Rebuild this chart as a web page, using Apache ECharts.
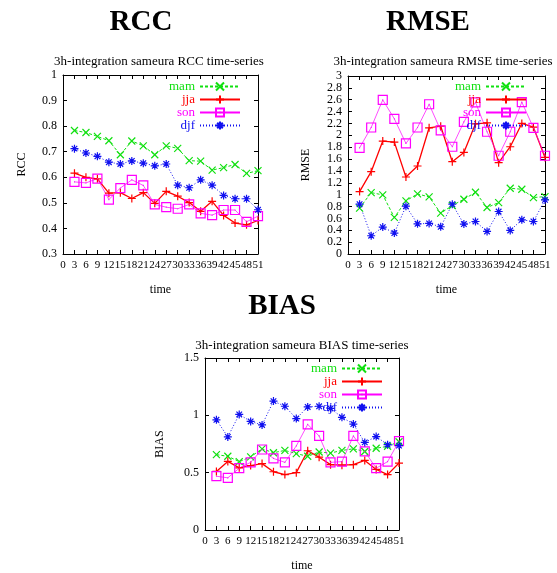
<!DOCTYPE html>
<html>
<head>
<meta charset="utf-8">
<script src="https://cdn.jsdelivr.net/npm/echarts@6/dist/echarts.min.js"></script>
<style>
  html, body { margin: 0; padding: 0; background: #fff; }
  #main { width: 557px; height: 573px; }
</style>
</head>
<body>
<div id="main"></div>
<script>
// forecast hours
const hours = [3, 6, 9, 12, 15, 18, 21, 24, 27, 30, 33, 36, 39, 42, 45, 48, 51]

// RCC
const rccMam = [0.783, 0.775, 0.76, 0.743, 0.688, 0.742, 0.723, 0.688, 0.723, 0.713, 0.665, 0.663, 0.628, 0.638, 0.65, 0.615, 0.626]
const rccJja = [0.616, 0.6, 0.594, 0.538, 0.54, 0.517, 0.54, 0.498, 0.545, 0.526, 0.501, 0.467, 0.506, 0.451, 0.421, 0.414, 0.431]
const rccSon = [0.582, 0.578, 0.595, 0.513, 0.558, 0.59, 0.568, 0.494, 0.483, 0.477, 0.494, 0.459, 0.452, 0.472, 0.472, 0.426, 0.448]
const rccDjf = [0.712, 0.695, 0.682, 0.659, 0.652, 0.664, 0.655, 0.645, 0.652, 0.569, 0.559, 0.59, 0.569, 0.529, 0.516, 0.516, 0.473]

// RMSE
const rmseMam = [0.772, 1.035, 0.996, 0.616, 0.895, 1.013, 0.962, 0.688, 0.817, 0.923, 1.04, 0.783, 0.867, 1.108, 1.091, 0.951, 0.968]
const rmseJja = [1.052, 1.388, 1.903, 1.886, 1.298, 1.483, 2.127, 2.154, 1.556, 1.712, 2.194, 2.21, 1.539, 1.808, 2.2, 2.138, 1.628]
const rmseSon = [1.79, 2.132, 2.597, 2.278, 1.863, 2.132, 2.524, 2.082, 1.808, 2.227, 2.557, 2.06, 1.656, 2.06, 2.56, 2.127, 1.656]
const rmseDjf = [0.839, 0.308, 0.453, 0.353, 0.806, 0.509, 0.515, 0.459, 0.839, 0.504, 0.548, 0.38, 0.716, 0.397, 0.576, 0.548, 0.912]

// BIAS
const biasMam = [0.657, 0.643, 0.596, 0.638, 0.708, 0.674, 0.694, 0.666, 0.643, 0.68, 0.671, 0.694, 0.708, 0.685, 0.713, 0.73, 0.77]
const biasJja = [0.511, 0.598, 0.542, 0.562, 0.579, 0.508, 0.483, 0.5, 0.691, 0.635, 0.57, 0.565, 0.57, 0.607, 0.528, 0.483, 0.584]
const biasSon = [0.469, 0.455, 0.539, 0.59, 0.702, 0.624, 0.59, 0.733, 0.921, 0.82, 0.59, 0.596, 0.82, 0.685, 0.539, 0.596, 0.775]
const biasDjf = [0.961, 0.812, 1.008, 0.947, 0.916, 1.124, 1.079, 0.972, 1.073, 1.079, 1.06, 0.983, 0.924, 0.764, 0.815, 0.744, 0.736]

const seasons = ['mam', 'jja', 'son', 'djf']
const serif = 'Liberation Serif'

const styles = {
  mam: { color: '#10e010', type: [3, 2], width: 1, symbol: 'path://M0,0L10,10M10,0L0,10', size: 7 },
  jja: { color: '#ff0000', type: 'solid', width: 1.3, symbol: 'path://M5,0V10M0,5H10', size: 8 },
  son: { color: '#ff00ff', type: 'solid', width: 0.7, symbol: 'path://M0,0H10V10H0ZM4.5,5H5.5', size: 9 },
  djf: { color: '#1010f0', type: [1, 2], width: 1, symbol: 'path://M5,0V10M0,5H10M1.5,1.5L8.5,8.5M8.5,1.5L1.5,8.5', size: 8 }
}

const grids = [
  { left: 63, top: 75, width: 195, height: 179 },
  { left: 348, top: 76, width: 197, height: 178 },
  { left: 205, top: 358, width: 194, height: 178 }
]

const yRanges = [
  { min: 0.3, max: 1, interval: 0.1, name: 'RCC', gap: 35 },
  { min: 0, max: 3, interval: 0.2, name: 'RMSE', gap: 36 },
  { min: 0, max: 1.5, interval: 0.5, name: 'BIAS', gap: 39 }
]

const allData = [
  { mam: rccMam, jja: rccJja, son: rccSon, djf: rccDjf },
  { mam: rmseMam, jja: rmseJja, son: rmseSon, djf: rmseDjf },
  { mam: biasMam, jja: biasJja, son: biasSon, djf: biasDjf }
]

function pairs(vals) {
  return hours.map((h, i) => [h, vals[i]])
}

const xAxis = []
const yAxis = []
const series = []

const tickStyle = { inside: true, length: 4, lineStyle: { color: '#000' } }
const lineStyle = { show: true, onZero: false, lineStyle: { color: '#000', width: 1 } }

grids.forEach((g, gi) => {
  // bottom axis with labels
  xAxis.push({
    type: 'value', gridIndex: gi, min: 0, max: 51, interval: 3,
    name: 'time', nameLocation: 'middle', nameGap: 30,
    nameTextStyle: { fontFamily: serif, fontSize: 12, color: '#000' },
    axisLine: lineStyle,
    axisTick: tickStyle,
    axisLabel: { fontFamily: serif, fontSize: 11, color: '#000', margin: 6, hideOverlap: false, showMaxLabel: true, showMinLabel: true },
    splitLine: { show: false }
  })
  // top mirror
  xAxis.push({
    type: 'value', gridIndex: gi, position: 'top', min: 0, max: 51, interval: 3,
    axisLine: lineStyle,
    axisTick: tickStyle,
    axisLabel: { show: false },
    splitLine: { show: false }
  })
  const yr = yRanges[gi]
  yAxis.push({
    type: 'value', gridIndex: gi, min: yr.min, max: yr.max, interval: yr.interval,
    name: yr.name, nameLocation: 'middle', nameGap: yr.gap, nameRotate: 90,
    nameTextStyle: { fontFamily: serif, fontSize: 12, color: '#000' },
    axisLine: lineStyle,
    axisTick: Object.assign({ show: true }, tickStyle),
    axisLabel: { fontFamily: serif, fontSize: 12, color: '#000', margin: 6 },
    splitLine: { show: false }
  })
  // right mirror
  yAxis.push({
    type: 'value', gridIndex: gi, position: 'right', min: yr.min, max: yr.max, interval: yr.interval,
    axisLine: lineStyle,
    axisTick: Object.assign({ show: true }, tickStyle),
    axisLabel: { show: false },
    splitLine: { show: false }
  })

  seasons.forEach(s => {
    const st = styles[s]
    series.push({
      name: s,
      type: 'line',
      xAxisIndex: gi * 2,
      yAxisIndex: gi * 2,
      data: pairs(allData[gi][s]),
      symbol: st.symbol,
      symbolSize: st.size,
      showSymbol: true,
      showAllSymbol: true,
      animation: false,
      lineStyle: { color: st.color, width: st.width, type: st.type },
      itemStyle: { color: 'rgba(0,0,0,0)', borderColor: st.color, borderWidth: 1.2 },
      emphasis: { disabled: true }
    })
  })
})

const legendPos = [
  { right: 316, top: 80 },
  { right: 30, top: 80 },
  { right: 174, top: 362 }
]

const legend = legendPos.map(p => ({
  orient: 'vertical',
  right: p.right,
  top: p.top,
  align: 'right',
  padding: 0,
  itemGap: 0,
  itemWidth: 40,
  itemHeight: 10,
  selectedMode: false,
  textStyle: { fontFamily: serif, fontSize: 13 },
  data: seasons.map(s => ({ name: s, textStyle: { color: styles[s].color } }))
}))

function label(text, x, y, font) {
  return {
    type: 'text', x: x, y: y,
    style: { text: text, font: font, fill: '#000', align: 'center', verticalAlign: 'middle' }
  }
}

const graphic = [
  label('RCC', 141, 23, 'bold 29px "Liberation Serif"'),
  label('RMSE', 428, 23, 'bold 29px "Liberation Serif"'),
  label('BIAS', 282, 307, 'bold 29px "Liberation Serif"'),
  label('3h-integration sameura RCC time-series', 159, 62, '13px "Liberation Serif"'),
  label('3h-integration sameura RMSE time-series', 443, 62, '13px "Liberation Serif"'),
  label('3h-integration sameura BIAS time-series', 302, 346, '13px "Liberation Serif"')
]

const option = {
  backgroundColor: '#fff',
  animation: false,
  grid: grids,
  xAxis: xAxis,
  yAxis: yAxis,
  legend: legend,
  graphic: graphic,
  series: series
}

const chart = echarts.init(document.getElementById('main'))
chart.setOption(option)
</script>
</body>
</html>
